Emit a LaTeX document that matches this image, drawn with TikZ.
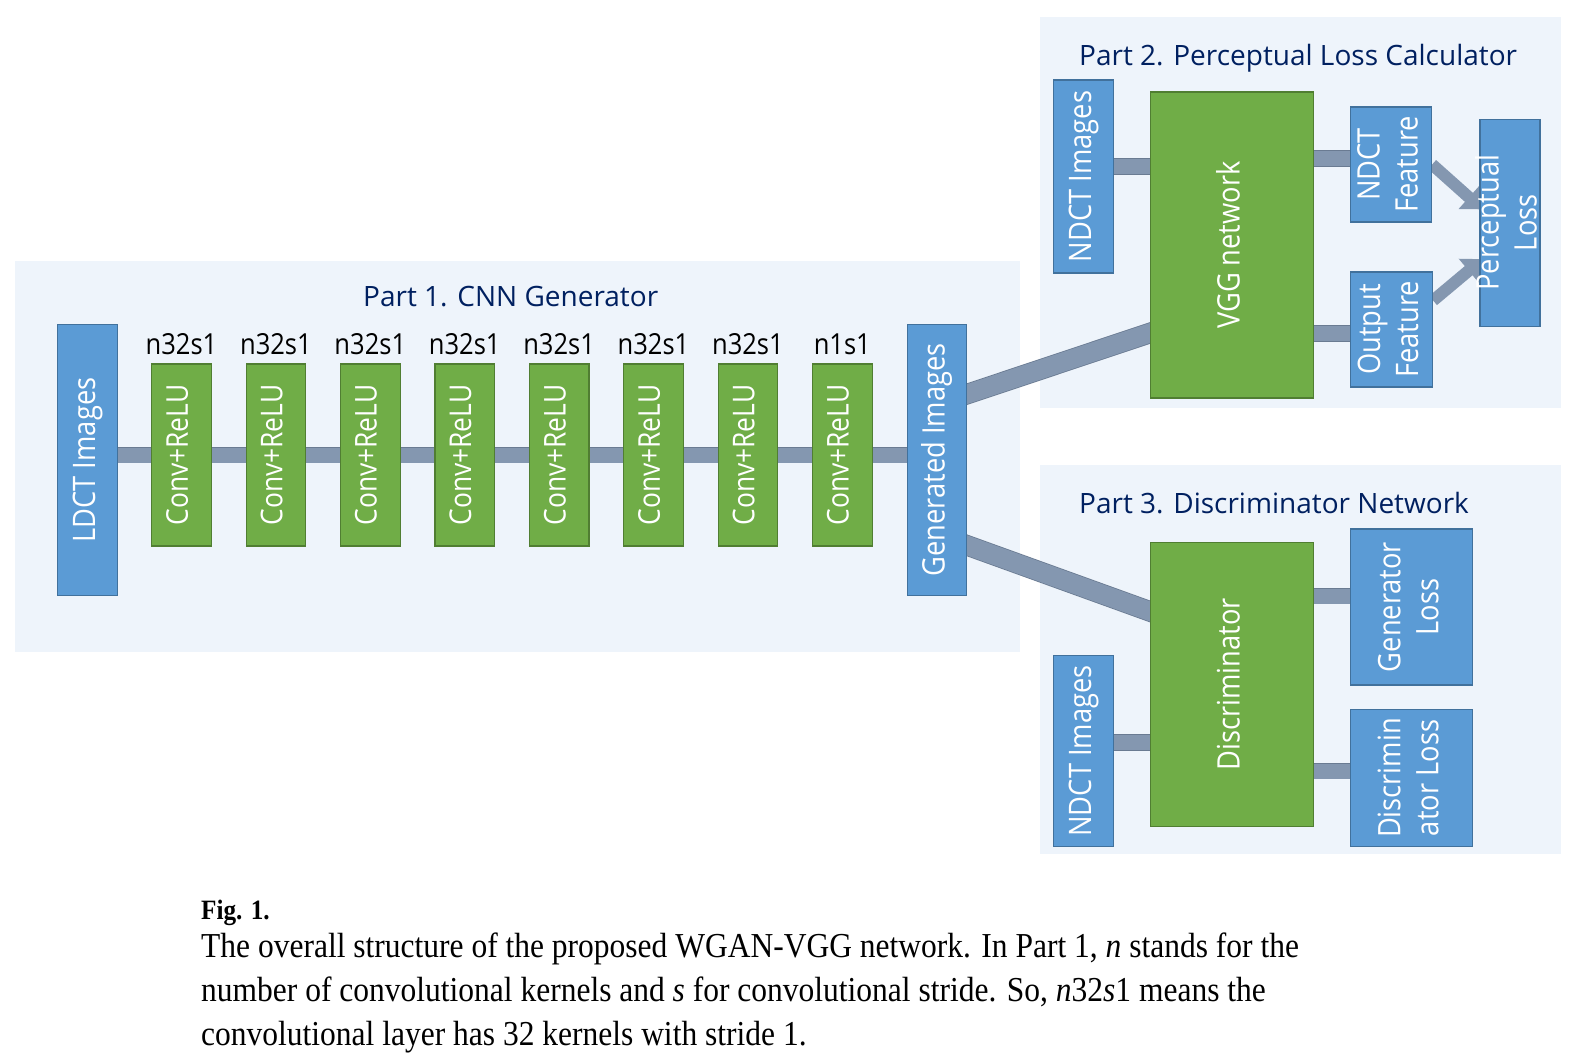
\documentclass[tikz,border=0pt]{standalone}
\usepackage{fontspec}
\usepackage{graphicx}
\setmainfont{Liberation Serif}
\newfontfamily\titlefont{Open Sans}
\newfontfamily\boxfont[FakeStretch=0.88]{Open Sans}
\newfontfamily\capfont[FakeStretch=0.9]{Liberation Serif}
\usetikzlibrary{arrows.meta}
\pgfdeclarelayer{back}
\pgfdeclarelayer{mid}
\pgfsetlayers{back,mid,main}

\definecolor{partbg}{HTML}{EEF4FB}
\definecolor{boxblue}{HTML}{5B9BD5}
\definecolor{blueedge}{HTML}{41719C}
\definecolor{boxgreen}{HTML}{70AD47}
\definecolor{greenedge}{HTML}{507E32}
\definecolor{linkgray}{HTML}{8497B0}
\definecolor{linkedge}{HTML}{6A7B92}
\definecolor{titleblue}{HTML}{002060}

% rotated box text, read from bottom to top
\newcommand{\vlab}[1]{\rotatebox{90}{\begin{tabular}{@{}c@{}}#1\end{tabular}}}

\tikzset{
  blk/.style={draw=blueedge, fill=boxblue, line width=1.2pt, text=white,
    inner sep=0pt, font=\boxfont\fontsize{31}{38}\selectfont},
  grn/.style={blk, draw=greenedge, fill=boxgreen},
  conv/.style={grn, minimum width=59.6pt, minimum height=182pt,
    font=\boxfont\fontsize{30}{32}\selectfont},
  lab/.style={inner sep=0pt, font=\boxfont\fontsize{29}{30}\selectfont},
  parttitle/.style={anchor=base west, inner sep=0pt, text=titleblue,
    font=\titlefont\fontsize{28}{30}\selectfont},
  link/.style={draw=linkedge, line width=0.8pt, double=linkgray, double distance=15pt},
  widelink/.style={link, double distance=19pt, shorten <=-8pt, shorten >=-8pt},
  fatarrow/.style={draw=linkgray, line width=12pt,
    -{Triangle[length=18pt, width=30pt]}},
  capline/.style={anchor=base west, inner sep=0pt,
    font=\capfont\fontsize{35}{40}\selectfont}
}

\begin{document}
\begin{tikzpicture}[x=1pt, y=-1pt]
\useasboundingbox (0,0) rectangle (1584,1059);

% panels
\begin{pgfonlayer}{back}
  \fill[white] (0,0) rectangle (1584,1059);
  \fill[partbg] (15,261) rectangle (1020,652);
  \fill[partbg] (1040,17) rectangle (1561,408);
  \fill[partbg] (1040,465) rectangle (1561,854);
\end{pgfonlayer}

% Part 1
\node[parttitle] (t1) at (363,306) {Part 1. CNN Generator};
\node[blk, minimum width=59.6pt, minimum height=271pt] (ldct) at (87.5,460) {\vlab{LDCT Images}};
\foreach \i/\lab in {1/n32s1,2/n32s1,3/n32s1,4/n32s1,5/n32s1,6/n32s1,7/n32s1,8/n1s1}{
  \node[conv] (c\i) at ({181.5+94.4*(\i-1)},455) {\vlab{Conv+ReLU}};
  \node[lab, anchor=base] (l\i) at ([yshift=9pt]c\i.north) {\lab};
}
\node[blk, minimum width=59.6pt, minimum height=271pt] (gen) at (937,460) {\vlab{Generated Images}};

% Part 2
\node[parttitle] (t2) at (1079,66) {Part 2. Perceptual Loss Calculator};
\node[blk, minimum width=59.6pt, minimum height=193pt] (ndct2) at (1083.5,176.5) {\vlab{NDCT Images}};
\node[grn, minimum width=163pt, minimum height=306pt] (vgg) at (1232,245) {\vlab{VGG network}};
\node[blk, minimum width=81pt, minimum height=115pt] (nfeat) at (1391,164.5) {\vlab{NDCT\\Feature}};
\node[blk, minimum width=82pt, minimum height=115pt] (ofeat) at (1391.5,329.5) {\vlab{Output\\Feature}};
\node[blk, minimum width=60pt, minimum height=207pt] (ploss) at (1510,222.7) {\makebox[0pt]{\vlab{Perceptual\\Loss}}};

% Part 3
\node[parttitle] (t3) at (1079,513) {Part 3. Discriminator Network};
\node[grn, minimum width=163pt, minimum height=284pt] (disc) at (1232,684.4) {\vlab{Discriminator}};
\node[blk, minimum width=122pt, minimum height=156pt] (gloss) at (1411.8,607) {\vlab{Generator\\Loss}};
\node[blk, minimum width=122pt, minimum height=137pt] (dloss) at (1411.8,778) {\vlab{Discrimin\\ator Loss}};
\node[blk, minimum width=59.6pt, minimum height=191pt] (ndct3) at (1083.5,751) {\vlab{NDCT Images}};

% connectors
\coordinate (g2v) at ([yshift=66pt]gen.east);
\coordinate (v2g) at ([yshift=-88pt]vgg.west);
\coordinate (g2d) at ([yshift=-85.5pt]gen.east);
\coordinate (d2g) at ([yshift=73pt]disc.west);
\coordinate (n2v) at ([yshift=10pt]ndct2.east);
\coordinate (v2n) at ([yshift=6pt]nfeat.west);
\coordinate (v2o) at ([yshift=-4pt]ofeat.west);
\coordinate (n2d) at ([yshift=8.5pt]ndct3.east);
\coordinate (d2gl) at ([yshift=11pt]gloss.west);
\coordinate (d2dl) at ([yshift=7pt]dloss.west);
\coordinate (pin1) at ([yshift=16pt]ploss.west);
\coordinate (pin2) at ([yshift=-39pt]ploss.west);
\coordinate (oout) at ([yshift=29pt]ofeat.east);
\begin{pgfonlayer}{mid}
  \draw[link] (c1.west -| ldct.east) -- (c1.west);
  \foreach \i/\j in {1/2,2/3,3/4,4/5,5/6,6/7,7/8}
    \draw[link] (c\i.east) -- (c\j.west);
  \draw[link] (c8.east) -- (c8.east -| gen.west);
  \draw[widelink] (g2v) -- (v2g);
  \draw[widelink] (g2d) -- (d2g);
  \draw[link] (n2v) -- (n2v -| vgg.west);
  \draw[link] (v2n -| vgg.east) -- (v2n);
  \draw[link] (v2o -| vgg.east) -- (v2o);
  \draw[link] (n2d) -- (n2d -| disc.west);
  \draw[link] (d2gl -| disc.east) -- (d2gl);
  \draw[link] (d2dl -| disc.east) -- (d2dl);
  \draw[fatarrow, shorten >=-4pt] (nfeat.east) -- (pin1);
  \draw[fatarrow, shorten >=-4pt] (oout) -- (pin2);
\end{pgfonlayer}

% caption
\node[capline, font=\capfont\bfseries\fontsize{28}{30}\selectfont] (fig) at (201,919) {Fig. 1.};
\node[capline] (cap1) at (201,957) {The overall structure of the proposed WGAN-VGG network. In Part 1, \textit{n} stands for the};
\node[capline] (cap2) at (201,1001) {number of convolutional kernels and \textit{s} for convolutional stride. So, \textit{n}32\textit{s}1 means the};
\node[capline] (cap3) at (201,1045) {convolutional layer has 32 kernels with stride 1.};
\end{tikzpicture}
\end{document}
